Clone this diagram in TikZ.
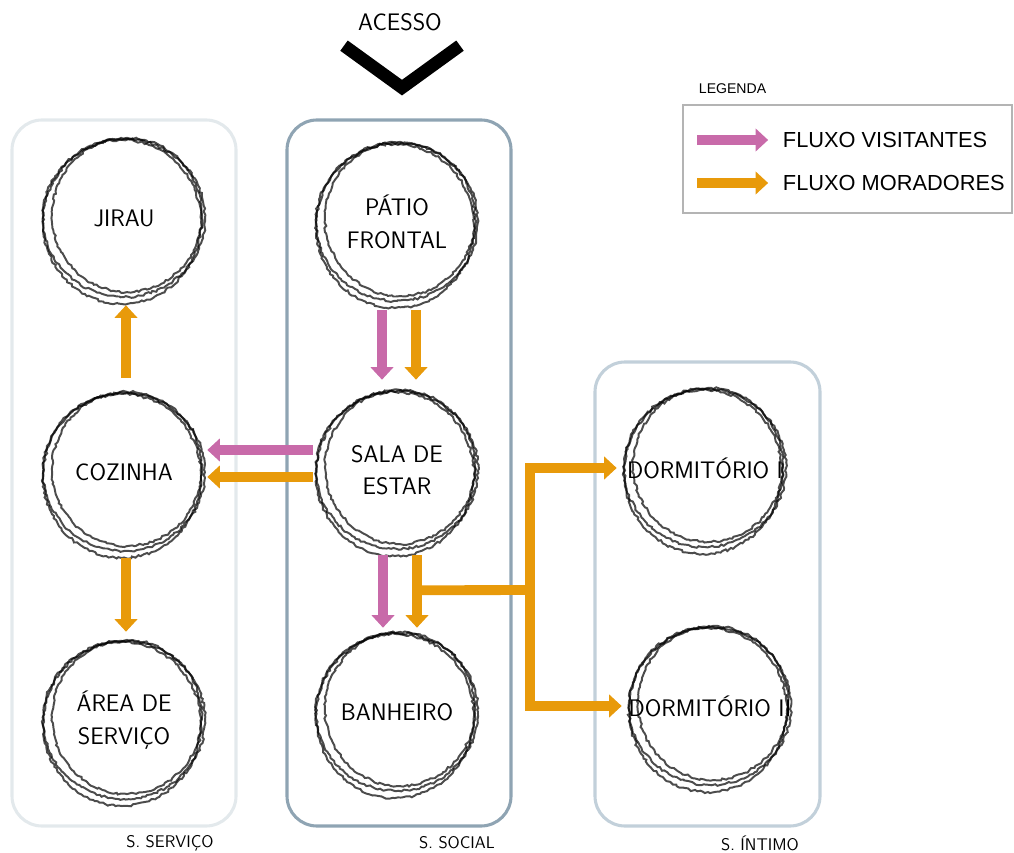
\documentclass[tikz,border=0pt]{standalone}
\usepackage{fontspec}
\usepackage{xcolor}
\usepackage{tikz}
\usetikzlibrary{arrows.meta, positioning, calc, decorations.pathmorphing}
\newfontfamily\legfont{Liberation Sans}
\definecolor{visita}{HTML}{C86AA9}
\definecolor{morador}{HTML}{E89A0A}
\definecolor{zserv}{HTML}{E3E9EC}
\definecolor{zsoc}{HTML}{8FA4B3}
\definecolor{zint}{HTML}{C2D0DA}
\definecolor{legborda}{HTML}{B4B4B4}

\begin{document}
\begin{tikzpicture}[x=0.025cm, y=-0.025cm,
    room/.style={circle, minimum size=4.1cm, inner sep=0pt, align=center,
      font=\sffamily\fontsize{17}{23}\selectfont},
    sketch/.style={draw=black, line width=1.4pt, opacity=0.7,
      decorate, decoration={random steps, segment length=2pt, amplitude=0.8pt}},
    zona/.style={line width=2.2pt, rounded corners=0.75cm},
    zlabel/.style={font=\sffamily\fontsize{12}{14}\selectfont},
    flux/.style={line width=7pt, -{Triangle[width=16pt, length=9pt]}},
    visflux/.style={flux, visita},
    morflux/.style={flux, morador},
    morline/.style={line width=7pt, morador, line join=miter}]
  \useasboundingbox (0,0) rectangle (1014,853);
  \pgfmathsetseed{7}

  \draw[zona, zserv] (12,120) rectangle (236,826);
  \draw[zona, zsoc] (287,120) rectangle (511,826);
  \draw[zona, zint] (595,362) rectangle (820,826);
  \node[zlabel] (lserv) at (170,843) {S. SERVIÇO};
  \node[zlabel] (lsoc) at (457,843) {S. SOCIAL};
  \node[zlabel] (lint) at (760,843) {S. ÍNTIMO};

  \node[font=\sffamily\fontsize{17}{20}\selectfont] (acesso) at (400,22) {ACESSO};
  \draw[line width=9pt, line join=miter]
    ($(acesso.south)+(-56,10)$) -- ($(acesso.south)+(2,52)$) -- ($(acesso.south)+(60,10)$);

  \node[room] (jirau) at (124,218) {JIRAU};
  \node[room] (cozinha) at (124,472) {COZINHA};
  \node[room] (area) at (124,720) {ÁREA DE\\SERVIÇO};
  \node[room] (patio) at (397,222) {PÁTIO\\FRONTAL};
  \node[room] (sala) at (397,470) {SALA DE\\ESTAR};
  \node[room] (banheiro) at (397,712) {BANHEIRO};
  \node[room] (dorm1) at (705,468) {DORMITÓRIO I};
  \node[room] (dorm2) at (710,706) {DORMITÓRIO II};

  \foreach \n in {jirau, cozinha, area, patio, sala, banheiro, dorm1, dorm2} {
    \draw[sketch] (\n.center) ellipse (81 and 79);
    \draw[sketch] ($(\n.center)+(3,-3)$) ellipse (75 and 77);
    \draw[sketch] ($(\n.center)+(-2,4)$) ellipse (79 and 82);
  }

  \draw[visflux] ($(patio.south)+(-15,6)$) -- ($(sala.north)+(-15,-8)$);
  \draw[morflux] ($(patio.south)+(19,6)$) -- ($(sala.north)+(19,-8)$);
  \draw[visflux] ($(sala.west)+(-2,-20)$) -- ($(cozinha.east)+(1,-22)$);
  \draw[morflux] ($(sala.west)+(-2,7)$) -- ($(cozinha.east)+(1,5)$);
  \draw[morflux] ($(cozinha.north)+(2,-12)$) -- ($(jirau.south)+(2,5)$);
  \draw[morflux] ($(cozinha.south)+(2,4)$) -- ($(area.north)+(2,-6)$);
  \draw[visflux] ($(sala.south)+(-14,3)$) -- ($(banheiro.north)+(-14,-2)$);
  \draw[morflux] ($(sala.south)+(20,3)$) -- ($(banheiro.north)+(20,-2)$);

  \coordinate (tap) at ($(sala.south)+(17,38)$);
  \coordinate (junta) at (530,590);
  \draw[morline] (tap) -- (junta);
  \draw[morflux, line join=miter] (junta |- dorm1) -- (junta |- dorm2) -- ($(dorm2.west)+(-6,0)$);
  \draw[morflux, line join=miter] (junta |- dorm2) -- (junta |- dorm1) -- ($(dorm1.west)+(-6,0)$);

  \node[anchor=west, font=\legfont\fontsize{10}{12}\selectfont] (legenda) at (694,89) {LEGENDA};
  \draw[legborda, line width=1.3pt] (683,105) rectangle (1012,213);
  \node[anchor=west, font=\legfont\fontsize{15.5}{18}\selectfont] (lvis) at (778,140) {FLUXO VISITANTES};
  \node[anchor=west, font=\legfont\fontsize{15.5}{18}\selectfont] (lmor) at (778,183) {FLUXO MORADORES};
  \coordinate (v0) at (697,140);
  \coordinate (m0) at (697,183);
  \draw[visflux] (v0) -- ([xshift=-7pt]lvis.west);
  \draw[morflux] (m0) -- ([xshift=-7pt]lmor.west);
\end{tikzpicture}
\end{document}
